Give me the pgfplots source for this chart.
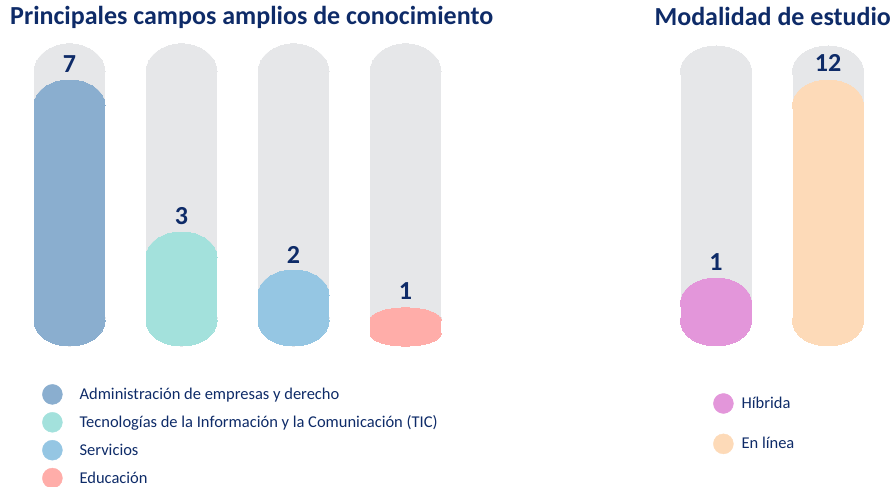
\documentclass[border=0pt]{standalone}
\usepackage{pgfplots}
\pgfplotsset{compat=1.18}
\usepackage{fontspec}
\setmainfont{Carlito}
\definecolor{navy}{HTML}{0E2B68}
\definecolor{pill}{HTML}{E6E7E9}
\definecolor{adm}{HTML}{8AAECF}
\definecolor{tic}{HTML}{A3E1DC}
\definecolor{serv}{HTML}{95C6E3}
\definecolor{edu}{HTML}{FFADA9}
\definecolor{hib}{HTML}{E396DA}
\definecolor{lin}{HTML}{FDDAB8}
\pgfplotsset{
  stem/.style={forget plot, mark=none, draw=#1, line width=71pt},
  capmark/.style n args={3}{forget plot, only marks, mark=*, mark size=35.5pt, color=#1,
     mark options={solid, fill=#1, draw=#1, line width=0pt, yshift=#2, yscale=#3}},
  vallabel/.style={nodes near coords, point meta=explicit symbolic,
     every node near coord/.append style={anchor=base, yshift=#1, inner sep=0pt,
       text=navy, font=\fontsize{26}{30}\selectfont\bfseries}},
}
\begin{document}
\begin{tikzpicture}
\useasboundingbox (0,0) rectangle (894pt,487pt);
\node[anchor=base west, inner sep=0pt, text=navy, font=\fontsize{26}{30}\selectfont\bfseries] at (10pt,462pt) {Principales campos amplios de conocimiento};
\node[anchor=base east, inner sep=0pt, text=navy, font=\fontsize{26}{30}\selectfont\bfseries] at (891pt,461pt) {Modalidad de estudio};

% ---------- left panel ----------
\begin{axis}[at={(13.5pt,141pt)}, anchor=south west, scale only axis,
  width=448pt, height=304pt, xmin=-0.5, xmax=3.5, ymin=0, ymax=8,
  hide axis, clip=false, clip marker paths=true,
  legend cell align=left,
  legend style={draw=none, fill=none, inner sep=0pt, at={(0.0636,-0.125)}, anchor=north west,
    row sep=7.5pt, text=navy, font=\fontsize{16.5}{19}\selectfont}]
% grey pills
\addplot[stem=pill, shorten <=28pt, shorten >=28pt] coordinates {(0,0) (0,7.95)};
\addplot[stem=pill, shorten <=28pt, shorten >=28pt] coordinates {(1,0) (1,7.95)};
\addplot[stem=pill, shorten <=28pt, shorten >=28pt] coordinates {(2,0) (2,7.95)};
\addplot[stem=pill, shorten <=28pt, shorten >=28pt] coordinates {(3,0) (3,7.95)};
\addplot[capmark={pill}{-28pt}{0.79}] coordinates {(0,7.95) (1,7.95) (2,7.95) (3,7.95)};
\addplot[capmark={pill}{28pt}{0.79}] coordinates {(0,0) (1,0) (2,0) (3,0)};
% Administración: 7
\addplot[stem=adm, shorten <=25pt, shorten >=25pt] coordinates {(0,0) (0,7)};
\addplot[capmark={adm}{25pt}{0.704}] coordinates {(0,0)};
\addplot[capmark={adm}{-25pt}{0.704}, vallabel=33pt] coordinates {(0,7) [7]};
% TIC: 3
\addplot[stem=tic, shorten <=25pt, shorten >=25pt] coordinates {(1,0) (1,3)};
\addplot[capmark={tic}{25pt}{0.704}] coordinates {(1,0)};
\addplot[capmark={tic}{-25pt}{0.704}, vallabel=32.5pt] coordinates {(1,3) [3]};
% Servicios: 2
\addplot[stem=serv, shorten <=25pt, shorten >=25pt] coordinates {(2,0) (2,2)};
\addplot[capmark={serv}{25pt}{0.704}] coordinates {(2,0)};
\addplot[capmark={serv}{-25pt}{0.704}, vallabel=31pt] coordinates {(2,2) [2]};
% Educación: 1
\addplot[stem=edu, shorten <=12pt, shorten >=12pt] coordinates {(3,0) (3,1)};
\addplot[capmark={edu}{12pt}{0.34}] coordinates {(3,0)};
\addplot[capmark={edu}{-12pt}{0.34}, vallabel=20pt] coordinates {(3,1) [1]};
% legend
\addlegendimage{legend image code/.code={\fill[adm] (0pt,0pt) circle (10pt); \path (-10pt,0pt) (25pt,0pt);}}
\addlegendentry{Administración de empresas y derecho}
\addlegendimage{legend image code/.code={\fill[tic] (0pt,0pt) circle (10pt); \path (-10pt,0pt) (25pt,0pt);}}
\addlegendentry{Tecnologías de la Información y la Comunicación (TIC)}
\addlegendimage{legend image code/.code={\fill[serv] (0pt,0pt) circle (10pt); \path (-10pt,0pt) (25pt,0pt);}}
\addlegendentry{Servicios}
\addlegendimage{legend image code/.code={\fill[edu] (0pt,0pt) circle (10pt); \path (-10pt,0pt) (25pt,0pt);}}
\addlegendentry{Educación}
\end{axis}

% ---------- right panel ----------
\begin{axis}[at={(660pt,166pt)}, anchor=south west, scale only axis,
  width=224pt, height=252pt, xmin=-0.5, xmax=1.5, ymin=0, ymax=14,
  hide axis, clip=false, clip marker paths=true,
  legend cell align=left,
  legend style={draw=none, fill=none, inner sep=0pt, at={(0.2366,-0.286)}, anchor=north west,
    row sep=20pt, text=navy, font=\fontsize{16.5}{19}\selectfont}]
\addplot[stem=pill] coordinates {(0,0) (0,13.89)};
\addplot[stem=pill] coordinates {(1,0) (1,13.89)};
\addplot[capmark={pill}{0pt}{0.704}] coordinates {(0,13.89) (1,13.89) (0,0) (1,0)};
% Híbrida: 1
\addplot[stem=hib] coordinates {(0,0) (0,1)};
\addplot[capmark={hib}{0pt}{0.704}] coordinates {(0,0)};
\addplot[capmark={hib}{0pt}{0.704}, vallabel=32pt] coordinates {(0,1) [1]};
% En línea: 12
\addplot[stem=lin] coordinates {(1,0) (1,12)};
\addplot[capmark={lin}{0pt}{0.704}] coordinates {(1,0)};
\addplot[capmark={lin}{0pt}{0.704}, vallabel=33pt] coordinates {(1,12) [12]};
\addlegendimage{legend image code/.code={\fill[hib] (0pt,0pt) circle (10pt); \path (-10pt,0pt) (16pt,0pt);}}
\addlegendentry{Híbrida}
\addlegendimage{legend image code/.code={\fill[lin] (0pt,0pt) circle (10pt); \path (-10pt,0pt) (16pt,0pt);}}
\addlegendentry{En línea}
\end{axis}
\end{tikzpicture}
\end{document}
